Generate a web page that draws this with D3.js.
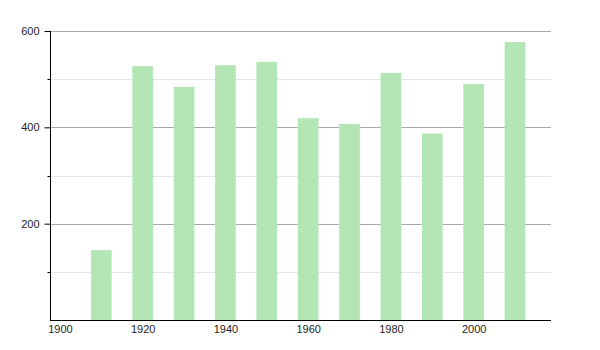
<!DOCTYPE html>
<meta charset="utf-8">
<script src="https://d3js.org/d3.v7.min.js"></script>
<style>
  body { margin: 0; background: #fff; }
  text { font-family: "Liberation Sans", Arial, sans-serif; font-size: 11px; fill: #222; }
</style>
<div id="chart"></div>
<script>
    // data
    const years = [1910, 1920, 1930, 1940, 1950, 1960, 1970, 1980, 1990, 2000, 2010];
    const values = [145, 527, 484, 529, 536, 419, 407, 513, 387, 490, 577];
    const xTicks = [1900, 1920, 1940, 1960, 1980, 2000];
    const yMajor = [200, 400, 600];
    const yMinor = [100, 300, 500];

    const width = 600, height = 350;
    const plotLeft = 50, plotRight = 551, plotTop = 31, plotBottom = 320;

    const svg = d3.select("#chart")
        .append("svg")
        .attr("width", width)
        .attr("height", height);

    const x = d3.scaleLinear()
        .domain([1897.6, 2018.7])
        .range([plotLeft, plotRight]);

    const y = d3.scaleLinear()
        .domain([0, 600])
        .range([plotBottom, plotTop]);

    // gridlines
    svg.append("g")
        .selectAll("line")
        .data(yMinor)
        .join("line")
        .attr("x1", plotLeft).attr("x2", plotRight)
        .attr("y1", d => Math.round(y(d)) + 0.5).attr("y2", d => Math.round(y(d)) + 0.5)
        .attr("stroke", "#e6e6e6");

    svg.append("g")
        .selectAll("line")
        .data(yMajor)
        .join("line")
        .attr("x1", plotLeft).attr("x2", plotRight)
        .attr("y1", d => Math.round(y(d)) + 0.5).attr("y2", d => Math.round(y(d)) + 0.5)
        .attr("stroke", "#aaaaaa");

    // bars
    const barW = x(1905) - x(1900);
    svg.append("g")
        .selectAll("rect")
        .data(years)
        .join("rect")
        .attr("x", (d) => x(d) - barW / 2)
        .attr("width", barW)
        .attr("y", (d, i) => y(values[i]))
        .attr("height", (d, i) => y(0) - y(values[i]))
        .attr("fill", "#b3e6b4");

    // y axis
    const yAxis = svg.append("g")
        .attr("transform", `translate(${plotLeft + 0.5},0)`)
        .call(d3.axisLeft(y).tickValues(yMajor).tickSize(6).tickPadding(5).tickSizeOuter(0));
    yAxis.select(".domain").attr("stroke", "#000");
    yAxis.selectAll(".tick line").attr("stroke", "#000");
    yAxis.selectAll("text").attr("fill", "#222").style("font-size", "11px");
    yAxis.append("g")
        .selectAll("line")
        .data(yMinor)
        .join("line")
        .attr("x1", -3).attr("x2", 0)
        .attr("y1", d => Math.round(y(d)) + 0.5).attr("y2", d => Math.round(y(d)) + 0.5)
        .attr("stroke", "#000");
    yAxis.select(".domain").attr("d", `M0,${plotTop}V${plotBottom}`);

    // x axis
    const xAxis = svg.append("g")
        .attr("transform", `translate(0,${plotBottom + 0.5})`)
        .call(d3.axisBottom(x).tickValues(xTicks).tickFormat(d3.format("d")).tickSize(0).tickPadding(5));
    xAxis.select(".domain").attr("stroke", "#000").attr("d", `M${plotLeft},0H${plotRight}`);
    xAxis.selectAll("text").attr("fill", "#222").style("font-size", "11px");
</script>
